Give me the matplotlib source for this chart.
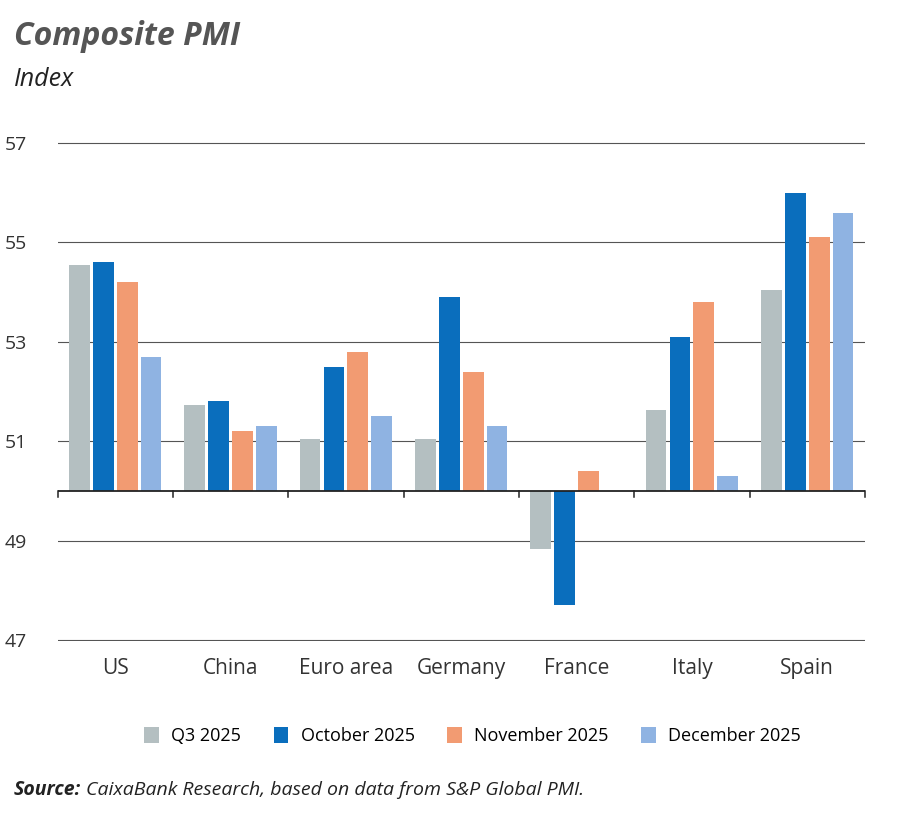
import matplotlib.pyplot as plt
import numpy as np

countries = ["US", "China", "Euro area", "Germany", "France", "Italy", "Spain"]
series = ["Q3 2025", "October 2025", "November 2025", "December 2025"]
q3 = [54.55, 51.73, 51.05, 51.05, 48.84, 51.63, 54.05]
oct_ = [54.6, 51.8, 52.5, 53.9, 47.7, 53.1, 56.0]
nov = [54.2, 51.2, 52.8, 52.4, 50.4, 53.8, 55.1]
dec = [52.7, 51.3, 51.5, 51.3, 50.0, 50.3, 55.6]
colors = ["#b4bfc1", "#0a6ebd", "#f29b72", "#8fb3e2"]
base = 50

plt.rcParams["font.family"] = ["Open Sans", "DejaVu Sans"]
fig = plt.figure(figsize=(9, 8.18), dpi=100)
ax = fig.add_axes([0.064, 0.2164, 0.897, 0.6100])

x = np.arange(len(countries))
w = 0.18
step = 0.207
for i, (vals, c, lab) in enumerate(zip([q3, oct_, nov, dec], colors, series)):
    v = np.array(vals)
    ax.bar(x + (i - 1.5) * step, v - base, w, bottom=base, color=c, label=lab, zorder=3)

ax.set_xlim(-0.5, len(countries) - 0.5)
ax.set_ylim(46.98, 57.02)
ax.set_yticks([47, 49, 51, 53, 55, 57])
ax.grid(axis="y", color="#555555", linewidth=0.8, zorder=0)
for s in ax.spines.values():
    s.set_visible(False)
ax.tick_params(axis="y", length=0, labelsize=14, colors="#333333", pad=22)
ax.tick_params(axis="x", length=0, labelsize=15, colors="#333333", pad=12)
ax.set_xticks(x)
ax.set_xticklabels(countries)
ax.axhline(base, color="#222222", linewidth=1.3, zorder=4)
for b in np.arange(-0.5, len(countries), 1.0):
    ax.plot([b, b], [base - 0.12, base], color="#222222", linewidth=1.1, zorder=4, clip_on=False)

fig.text(0.015, 0.945, "Composite PMI", fontsize=23, fontweight="bold", style="italic", color="#555555")
fig.text(0.015, 0.895, "Index", fontsize=18, style="italic", color="#222222")
fig.legend(loc="center", bbox_to_anchor=(0.525, 0.1), ncol=4, frameon=False, fontsize=13,
           handlelength=0.8, handleheight=1.0, columnspacing=1.8, handletextpad=0.7)
src = fig.text(0.015, 0.028, "Source:", fontsize=14, fontweight="bold", style="italic", color="#222222")
fig.canvas.draw()
bb = src.get_window_extent().transformed(fig.transFigure.inverted())
fig.text(bb.x1 + 0.006, 0.028, "CaixaBank Research, based on data from S&P Global PMI.",
         fontsize=14, style="italic", color="#222222")

fig.savefig("out.png", dpi=100)
